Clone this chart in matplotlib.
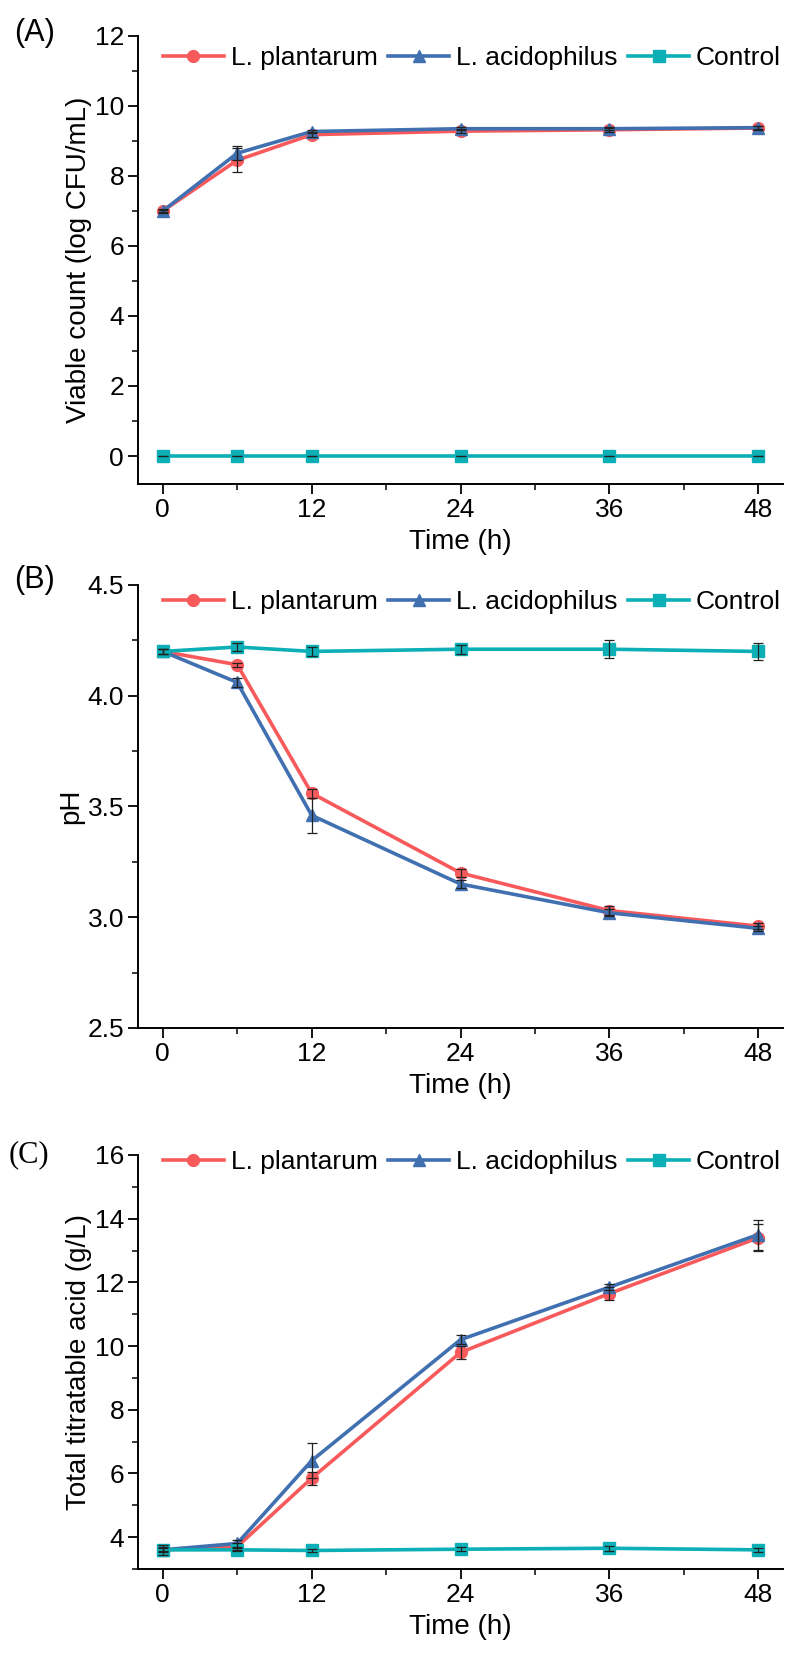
import matplotlib
matplotlib.use("Agg")
import matplotlib.pyplot as plt
from matplotlib.ticker import MultipleLocator, FuncFormatter

plt.rcParams["font.family"] = ["Liberation Sans", "DejaVu Sans"]

# ── Data ──
time_h = [0, 6, 12, 24, 36, 48]
series = ["L. plantarum", "L. acidophilus", "Control"]

viable_plant = [7.0, 8.45, 9.18, 9.28, 9.32, 9.37]
viable_plant_err = [0.05, 0.35, 0.08, 0.05, 0.05, 0.06]
viable_acid = [7.0, 8.65, 9.27, 9.35, 9.35, 9.38]
viable_acid_err = [0.04, 0.2, 0.05, 0.04, 0.04, 0.05]
viable_ctrl = [0, 0, 0, 0, 0, 0]
viable_ctrl_err = [0, 0, 0, 0, 0, 0]

ph_plant = [4.2, 4.14, 3.56, 3.2, 3.03, 2.96]
ph_plant_err = [0.01, 0.01, 0.02, 0.02, 0.02, 0.015]
ph_acid = [4.2, 4.06, 3.46, 3.15, 3.02, 2.95]
ph_acid_err = [0.01, 0.02, 0.08, 0.02, 0.015, 0.01]
ph_ctrl = [4.2, 4.22, 4.2, 4.21, 4.21, 4.2]
ph_ctrl_err = [0.01, 0.02, 0.02, 0.02, 0.04, 0.04]

tta_plant = [3.6, 3.7, 5.85, 9.8, 11.65, 13.4]
tta_plant_err = [0.08, 0.1, 0.2, 0.2, 0.2, 0.43]
tta_acid = [3.6, 3.8, 6.4, 10.2, 11.85, 13.5]
tta_acid_err = [0.15, 0.1, 0.55, 0.15, 0.1, 0.47]
tta_ctrl = [3.6, 3.6, 3.58, 3.62, 3.65, 3.6]
tta_ctrl_err = [0.05, 0.05, 0.06, 0.06, 0.08, 0.06]

colors = ["#F85A5C", "#4170B1", "#0CAFB5"]
markers = ["o", "^", "s"]

panels = [
    ("(A)", "Viable count (log CFU/mL)",
     [(viable_plant, viable_plant_err), (viable_acid, viable_acid_err), (viable_ctrl, viable_ctrl_err)],
     (-0.8, 12), 2, 1, "{:.0f}", 0.951),
    ("(B)", "pH",
     [(ph_plant, ph_plant_err), (ph_acid, ph_acid_err), (ph_ctrl, ph_ctrl_err)],
     (2.5, 4.5), 0.5, 0.25, "{:.1f}", 0.962),
    ("(C)", "Total titratable acid (g/L)",
     [(tta_plant, tta_plant_err), (tta_acid, tta_acid_err), (tta_ctrl, tta_ctrl_err)],
     (3.0, 16), 2, 1, "{:.0f}", 0.983),
]

# axes boxes in figure fraction: [left, bottom, width, height]
boxes = [
    [0.1753, 0.7119, 0.8197, 0.2667],
    [0.1753, 0.3881, 0.8197, 0.2637],
    [0.1753, 0.0661, 0.8197, 0.2464],
]
label_y = [1 - 33 / 1680, 1 - 580 / 1680, 1 - 1155 / 1680]

fig = plt.figure(figsize=(7.87, 16.8), dpi=100)

for (label, ylabel, data, ylim, major, minor, fmt, leg_y), box, ly in zip(panels, boxes, label_y):
    ax = fig.add_axes(box)
    for (vals, errs), name, c, m in zip(data, series, colors, markers):
        ax.plot(time_h, vals, color=c, marker=m, markersize=8.5, linewidth=2.6,
                label=name, zorder=3)
        ax.errorbar(time_h, vals, yerr=errs, fmt="none", ecolor="#222222",
                    elinewidth=0.9, capsize=3.6, capthick=0.9, zorder=4)
    ax.set_xlim(-2, 50)
    ax.set_ylim(*ylim)
    ax.set_xticks([0, 12, 24, 36, 48])
    ax.xaxis.set_minor_locator(MultipleLocator(6))
    ax.yaxis.set_major_locator(MultipleLocator(major))
    ax.yaxis.set_minor_locator(MultipleLocator(minor))
    ax.yaxis.set_major_formatter(FuncFormatter(lambda v, p, f=fmt: f.format(v)))
    ax.spines["top"].set_visible(False)
    ax.spines["right"].set_visible(False)
    for s in ("left", "bottom"):
        ax.spines[s].set_linewidth(1.4)
    ax.tick_params(which="major", direction="out", length=7, width=1.3, labelsize=19, pad=3)
    ax.tick_params(which="minor", direction="out", length=4.5, width=1.1)
    ax.set_xlabel("Time (h)", fontsize=20, labelpad=5)
    ax.set_ylabel(ylabel, fontsize=20, labelpad=2)
    ax.legend(loc="center left", bbox_to_anchor=(0.039, leg_y), ncol=3, frameon=False,
              fontsize=19, handlelength=2.3, handletextpad=0.27, columnspacing=0.4,
              borderaxespad=0, borderpad=0)
    if label == "(C)":
        fig.text(0.011, ly, label, fontsize=22,
                 family=["Liberation Serif", "DejaVu Serif"], va="center")
    else:
        fig.text(0.018, ly, label, fontsize=22, va="center")

plt.savefig("out.png", dpi=100)
